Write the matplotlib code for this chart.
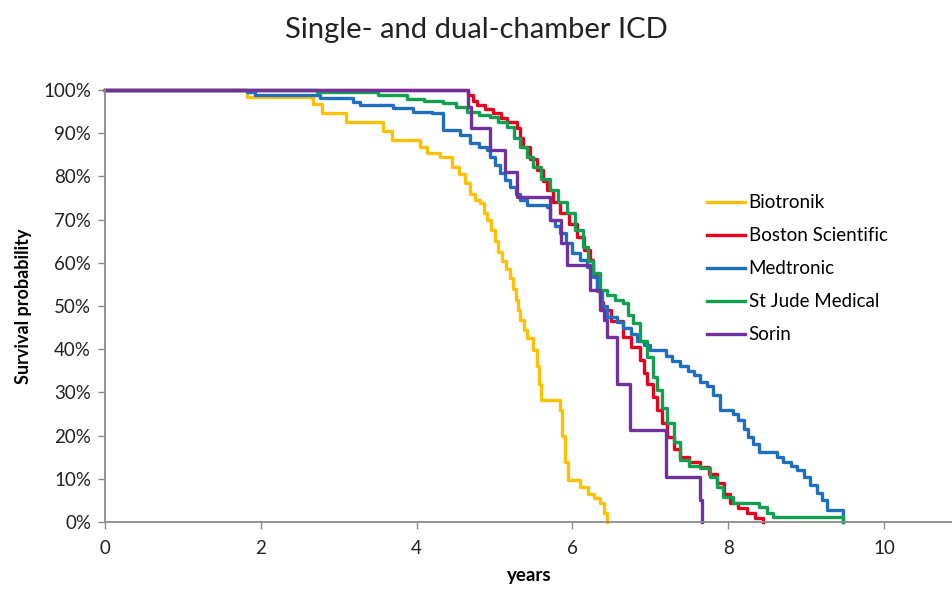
import matplotlib
matplotlib.use("Agg")
import matplotlib.pyplot as plt
from matplotlib.ticker import FuncFormatter

plt.rcParams['font.family'] = ['Lato', 'DejaVu Sans']

# Kaplan-Meier style step data, (years, survival %)
biotronik = [(0, 100), (1.82, 98.4), (2.67, 96.8), (2.79, 94.7), (3.1, 92.6), (3.57, 90.5),
             (3.68, 88.4), (4.05, 86.8), (4.13, 85.4), (4.3, 84.5), (4.45, 82.2), (4.55, 80.5),
             (4.62, 78.5), (4.69, 76.0), (4.75, 74.5), (4.81, 73.8), (4.87, 71.5), (4.9, 70.0),
             (4.95, 67.5), (5.0, 65.0), (5.05, 62.5), (5.1, 60.5), (5.15, 58.5), (5.2, 56.5),
             (5.24, 54.0), (5.27, 51.5), (5.3, 49.0), (5.33, 46.8), (5.38, 44.5), (5.42, 42.5),
             (5.5, 39.8), (5.54, 36.0), (5.57, 32.0), (5.6, 28.2), (5.84, 26.0), (5.87, 20.0),
             (5.9, 14.0), (5.94, 9.7), (6.1, 8.1), (6.2, 6.5), (6.28, 5.5), (6.35, 4.4),
             (6.4, 2.0), (6.44, 0)]

boston = [(0, 100), (4.66, 98.8), (4.72, 97.5), (4.77, 96.5), (4.88, 95.5), (4.98, 94.7),
          (5.08, 93.5), (5.16, 92.6), (5.29, 91.2), (5.33, 89.0), (5.37, 86.8), (5.45, 84.0),
          (5.55, 81.5), (5.62, 79.0), (5.67, 76.9), (5.75, 74.0), (5.84, 71.5), (5.95, 69.0),
          (6.06, 66.0), (6.15, 63.0), (6.23, 60.6), (6.27, 57.0), (6.31, 53.7), (6.35, 51.0),
          (6.39, 49.0), (6.5, 46.5), (6.65, 42.8), (6.75, 40.5), (6.87, 37.5), (6.92, 34.5),
          (6.96, 32.0), (7.03, 29.0), (7.09, 26.0), (7.15, 23.0), (7.21, 19.7), (7.3, 17.0),
          (7.38, 15.0), (7.5, 14.0), (7.64, 12.7), (7.75, 11.0), (7.86, 9.0), (7.95, 6.5),
          (8.02, 4.4), (8.12, 3.2), (8.24, 2.0), (8.35, 1.0), (8.45, 0)]

medtronic = [(0, 100), (1.82, 99.5), (1.93, 98.8), (2.76, 98.2), (3.18, 97.3), (3.27, 96.5),
             (3.7, 95.8), (3.95, 95.0), (4.2, 94.7), (4.34, 90.7), (4.56, 89.6), (4.69, 87.7),
             (4.8, 86.8), (4.9, 86.0), (4.94, 84.5), (5.0, 82.7), (5.07, 80.8), (5.13, 79.2),
             (5.2, 77.5), (5.27, 76.0), (5.33, 74.5), (5.42, 73.4), (5.67, 72.9), (5.71, 70.0),
             (5.78, 68.5), (5.84, 67.0), (5.92, 64.5), (6.0, 62.3), (6.1, 60.6), (6.19, 59.0),
             (6.26, 56.7), (6.32, 53.5), (6.38, 50.0), (6.45, 47.5), (6.57, 46.3), (6.65, 45.0),
             (6.75, 43.5), (6.83, 42.0), (6.92, 41.0), (7.0, 39.8), (7.2, 38.5), (7.28, 37.3),
             (7.38, 36.0), (7.48, 35.0), (7.56, 34.0), (7.64, 32.4), (7.73, 31.5), (7.8, 29.5),
             (7.9, 26.0), (8.06, 25.0), (8.12, 23.5), (8.2, 21.5), (8.26, 19.7), (8.32, 18.0),
             (8.4, 16.2), (8.63, 15.0), (8.7, 14.0), (8.8, 13.0), (8.88, 12.0), (8.97, 10.5),
             (9.05, 8.5), (9.14, 6.7), (9.2, 5.0), (9.27, 2.8), (9.48, 0)]

st_jude = [(0, 100), (2.72, 99.5), (3.5, 98.8), (3.88, 98.0), (4.1, 97.5), (4.34, 97.0),
           (4.5, 96.0), (4.65, 95.0), (4.8, 94.3), (4.94, 93.8), (5.05, 92.5), (5.16, 91.4),
           (5.25, 89.0), (5.33, 86.8), (5.42, 84.5), (5.49, 82.2), (5.6, 79.5), (5.71, 76.9),
           (5.82, 74.0), (5.93, 71.5), (6.03, 67.5), (6.14, 63.7), (6.2, 60.5), (6.26, 57.6),
           (6.35, 53.7), (6.45, 52.5), (6.55, 51.5), (6.65, 50.7), (6.72, 48.0), (6.78, 46.0),
           (6.87, 42.0), (6.96, 38.2), (7.03, 33.5), (7.09, 30.6), (7.15, 26.5), (7.21, 22.9),
           (7.3, 18.5), (7.38, 14.4), (7.5, 13.0), (7.64, 12.5), (7.77, 10.4), (7.86, 8.1),
           (7.93, 5.8), (8.06, 4.4), (8.4, 3.5), (8.5, 2.0), (8.58, 1.2), (9.47, 0)]

sorin = [(0, 100), (4.66, 96.0), (4.7, 91.2), (4.94, 86.0), (5.13, 81.0), (5.29, 75.2),
         (5.71, 70.0), (5.86, 64.5), (5.93, 59.5), (6.23, 53.7), (6.35, 49.0), (6.4, 46.8),
         (6.44, 42.8), (6.57, 32.0), (6.74, 21.3), (7.2, 10.4), (7.64, 5.1), (7.67, 0)]

labels = ["Biotronik", "Boston Scientific", "Medtronic", "St Jude Medical", "Sorin"]
series = [biotronik, boston, medtronic, st_jude, sorin]
colors = ["#FFC000", "#E8001C", "#1F6FC0", "#10A050", "#7030A0"]

fig = plt.figure(figsize=(9.53, 5.92), dpi=100)
ax = fig.add_axes([105 / 953, 70 / 592, 848 / 953, 432 / 592])

for data, lab, col in zip(series, labels, colors):
    t = [d[0] for d in data]
    p = [d[1] / 100 for d in data]
    ax.step(t, p, where='post', color=col, lw=2.4, label=lab, clip_on=False)

ax.set_xlim(0, 848 / 77.9)
ax.set_ylim(0, 1)
ax.set_xticks([0, 2, 4, 6, 8, 10])
ax.set_yticks([i / 10 for i in range(11)])
ax.yaxis.set_major_formatter(FuncFormatter(lambda v, _: f"{v * 100:.0f}%"))

for s in ['top', 'right']:
    ax.spines[s].set_visible(False)
for s in ['left', 'bottom']:
    ax.spines[s].set_color('#8a8a8a')
    ax.spines[s].set_linewidth(1.3)
ax.tick_params(axis='both', colors='#8a8a8a', length=5, width=1, labelcolor='#222222',
               labelsize=13.5)
ax.tick_params(axis='x', pad=8)
ax.tick_params(axis='y', pad=5)

ax.set_xlabel("years", fontsize=13.5, fontweight='bold', labelpad=7)
ax.set_ylabel("Survival probability", fontsize=13, fontweight='bold', labelpad=8)
fig.text(0.5, 1 - 30 / 592, "Single- and dual-chamber ICD", ha='center', va='center',
         fontsize=21, color='#222222')

ax.legend(loc='upper left', bbox_to_anchor=(698 / 953, 1 - 185 / 592),
          bbox_transform=fig.transFigure, frameon=False, fontsize=13.5,
          handlelength=2.0, handletextpad=0.2, labelspacing=0.85, borderpad=0)

fig.savefig("out.png", dpi=100)
